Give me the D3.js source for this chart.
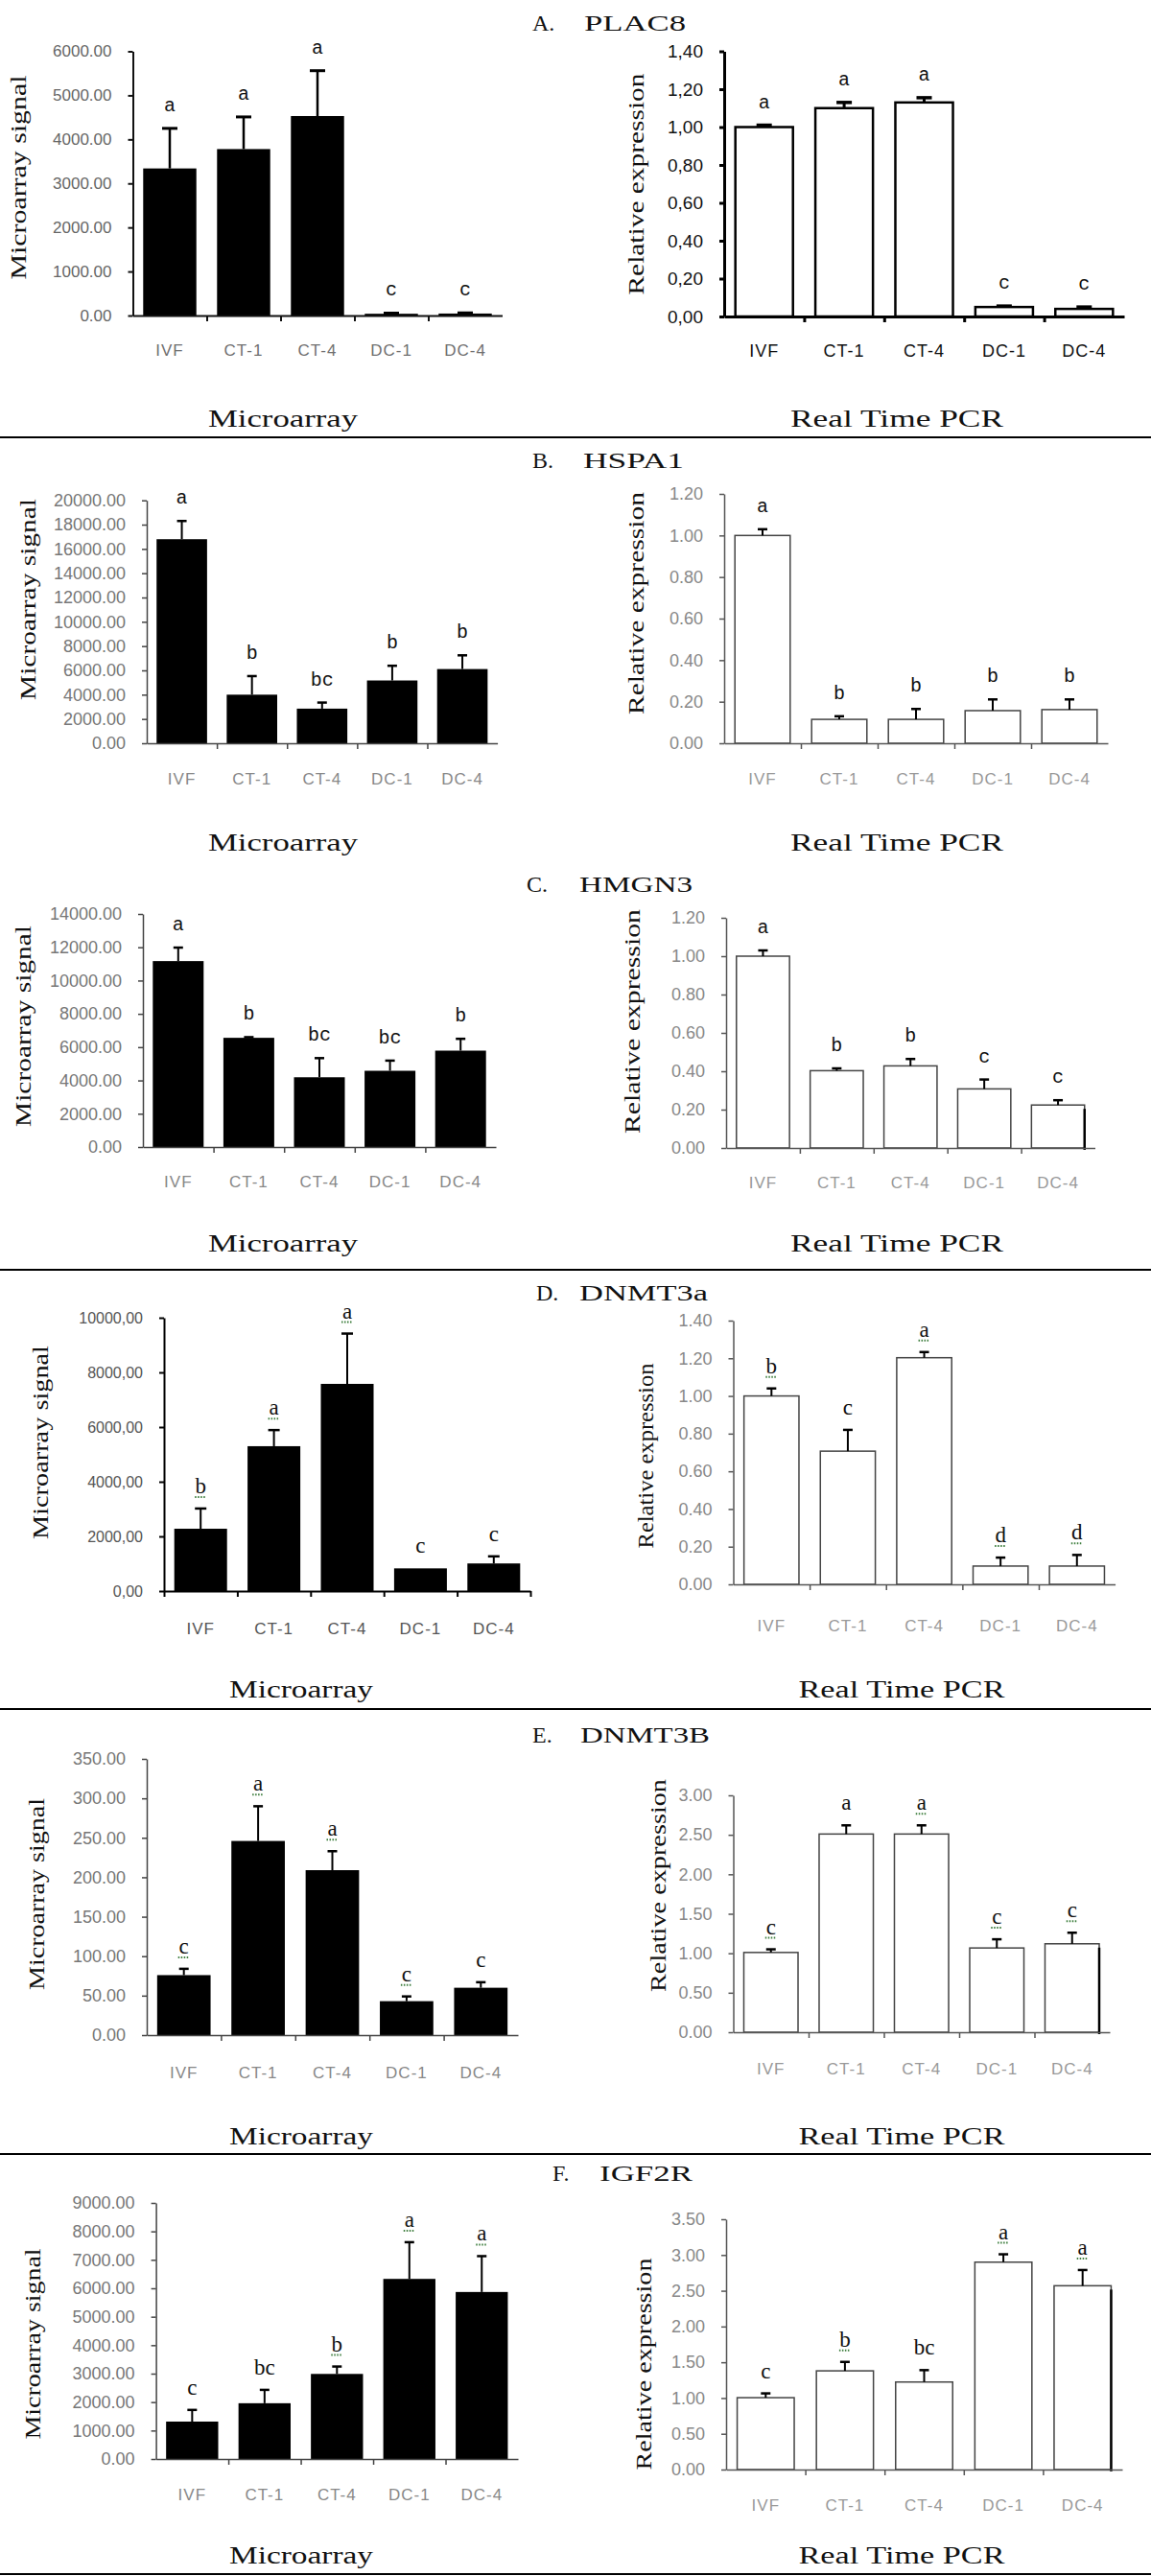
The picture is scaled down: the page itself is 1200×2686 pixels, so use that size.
<!DOCTYPE html>
<html>
<head>
<meta charset="utf-8">
<script src="https://cdn.jsdelivr.net/npm/d3@7"></script>
<style>
  body { margin: 0; background: #fff; }
  svg { display: block; }
</style>
</head>
<body>
<svg id="figure"></svg>
<script>
// Data
const groups = ["IVF", "CT-1", "CT-4", "DC-1", "DC-4"];
const panelLetters = ["A.", "B.", "C.", "D.", "E.", "F."];
const geneNames = ["PLAC8", "HSPA1", "HMGN3", "DNMT3a", "DNMT3B", "IGF2R"];

const plac8Micro = [3340, 3780, 4530, 40, 45];
const plac8MicroErr = [910, 730, 1030, 15, 15];
const plac8MicroSig = ["a", "a", "a", "c", "c"];
const plac8MicroTicks = [0, 1000, 2000, 3000, 4000, 5000, 6000];
const plac8Pcr = [1.0, 1.1, 1.13, 0.05, 0.04];
const plac8PcrErr = [0.01, 0.03, 0.025, 0.005, 0.01];
const plac8PcrSig = ["a", "a", "a", "c", "c"];
const plac8PcrTicks = [0, 0.2, 0.4, 0.6, 0.8, 1.0, 1.2, 1.4];

const hspa1Micro = [16800, 4000, 2850, 5170, 6110];
const hspa1MicroErr = [1500, 1530, 500, 1210, 1130];
const hspa1MicroSig = ["a", "b", "bc", "b", "b"];
const hspa1MicroTicks = [0, 2000, 4000, 6000, 8000, 10000, 12000, 14000, 16000, 18000, 20000];
const hspa1Pcr = [1.0, 0.115, 0.115, 0.157, 0.162];
const hspa1PcrErr = [0.03, 0.015, 0.05, 0.054, 0.049];
const hspa1PcrSig = ["a", "b", "b", "b", "b"];
const hspa1PcrTicks = [0, 0.2, 0.4, 0.6, 0.8, 1.0, 1.2];

const hmgn3Micro = [11170, 6560, 4190, 4580, 5790];
const hmgn3MicroErr = [810, 40, 1150, 610, 710];
const hmgn3MicroSig = ["a", "b", "bc", "bc", "b"];
const hmgn3MicroTicks = [0, 2000, 4000, 6000, 8000, 10000, 12000, 14000];
const hmgn3Pcr = [1.0, 0.403, 0.428, 0.308, 0.224];
const hmgn3PcrErr = [0.03, 0.012, 0.036, 0.049, 0.025];
const hmgn3PcrSig = ["a", "b", "b", "c", "c"];
const hmgn3PcrTicks = [0, 0.2, 0.4, 0.6, 0.8, 1.0, 1.2];

const dnmt3aMicro = [2280, 5300, 7580, 830, 1010];
const dnmt3aMicroErr = [740, 590, 1840, 0, 260];
const dnmt3aMicroSig = ["b", "a", "a", "c", "c"];
const dnmt3aMicroTicks = [0, 2000, 4000, 6000, 8000, 10000];
const dnmt3aPcr = [1.0, 0.707, 1.203, 0.097, 0.097];
const dnmt3aPcrErr = [0.04, 0.113, 0.03, 0.045, 0.059];
const dnmt3aPcrSig = ["b", "c", "a", "d", "d"];
const dnmt3aPcrTicks = [0, 0.2, 0.4, 0.6, 0.8, 1.0, 1.2, 1.4];

const dnmt3bMicro = [76, 246, 209, 43, 60];
const dnmt3bMicroErr = [8, 44, 24, 6, 7];
const dnmt3bMicroSig = ["c", "a", "a", "c", "c"];
const dnmt3bMicroTicks = [0, 50, 100, 150, 200, 250, 300, 350];
const dnmt3bPcr = [1.01, 2.51, 2.51, 1.067, 1.12];
const dnmt3bPcrErr = [0.04, 0.11, 0.11, 0.11, 0.14];
const dnmt3bPcrSig = ["c", "a", "a", "c", "c"];
const dnmt3bPcrTicks = [0, 0.5, 1.0, 1.5, 2.0, 2.5, 3.0];

const igf2rMicro = [1315, 1960, 2990, 6330, 5870];
const igf2rMicroErr = [410, 470, 260, 1290, 1260];
const igf2rMicroSig = ["c", "bc", "b", "a", "a"];
const igf2rMicroTicks = [0, 1000, 2000, 3000, 4000, 5000, 6000, 7000, 8000, 9000];
const igf2rPcr = [1.005, 1.38, 1.224, 2.9, 2.57];
const igf2rPcrErr = [0.06, 0.125, 0.166, 0.11, 0.22];
const igf2rPcrSig = ["c", "b", "bc", "a", "a"];
const igf2rPcrTicks = [0, 0.5, 1.0, 1.5, 2.0, 2.5, 3.0, 3.5];

// letters that carry the dotted spell-check underline in the source figure
const dnmt3aMicroDots = [1, 1, 1, 0, 0];
const dnmt3aPcrDots = [1, 0, 1, 1, 1];
const dnmt3bMicroDots = [1, 1, 1, 1, 0];
const dnmt3bPcrDots = [1, 0, 1, 1, 1];
const igf2rMicroDots = [0, 0, 1, 1, 1];
const igf2rPcrDots = [0, 1, 0, 1, 1];
const noDots = [0, 0, 0, 0, 0];

// Fonts and formats
const serif = "'Liberation Serif', 'DejaVu Serif', serif";
const sans = "'Liberation Sans', Arial, sans-serif";
const mono = "'Liberation Mono', 'DejaVu Sans Mono', monospace";
const fmtDot = d3.format(".2f");
const fmtComma = (d) => d3.format(".2f")(d).replace(".", ",");

// Look of each chart type
const looks = {
  microA: { fill: "#000", stroke: "none", sw: 0, axis: "#111", aw: 2, tick: "#666", cat: "#707070", tfs: 17, cfs: 17, cap: 16, ew: 2.5, edges: [1, 2, 3, 4] },
  pcrA: { fill: "#fff", stroke: "#000", sw: 2.5, axis: "#000", aw: 3, tick: "#111", cat: "#111", tfs: 19, cfs: 18, cap: 16, ew: 3, edges: [1, 2, 3, 4] },
  micro: { fill: "#000", stroke: "none", sw: 0, axis: "#444", aw: 1.5, tick: "#777", cat: "#888", tfs: 18, cfs: 17, cap: 10, ew: 2, edges: [1, 2, 3, 4] },
  microD: { fill: "#000", stroke: "none", sw: 0, axis: "#000", aw: 2, tick: "#555", cat: "#555", tfs: 16, cfs: 17, cap: 12, ew: 2, edges: [0, 1, 2, 3, 4, 5] },
  pcr: { fill: "#fff", stroke: "#444", sw: 1.5, axis: "#555", aw: 1.5, tick: "#888", cat: "#999", tfs: 18, cfs: 17, cap: 10, ew: 2, edges: [1, 2, 3, 4] },
};

// Chart placement: box = [x0, x1, y of top tick, y of zero], gap = zero line to label centre
const charts = [
  { v: plac8Micro, e: plac8MicroErr, s: plac8MicroSig, d: noDots, t: plac8MicroTicks, f: fmtDot, look: "microA", box: [138.5, 523.5, 53.5, 329], gap: 36 },
  { v: plac8Pcr, e: plac8PcrErr, s: plac8PcrSig, d: noDots, t: plac8PcrTicks, f: fmtComma, look: "pcrA", box: [755, 1172, 53.5, 330], gap: 36 },
  { v: hspa1Micro, e: hspa1MicroErr, s: hspa1MicroSig, d: noDots, t: hspa1MicroTicks, f: fmtDot, look: "micro", box: [153, 518.6, 521.7, 775], gap: 37 },
  { v: hspa1Pcr, e: hspa1PcrErr, s: hspa1PcrSig, d: noDots, t: hspa1PcrTicks, f: fmtDot, look: "pcr", box: [755, 1155, 515, 775], gap: 37 },
  { v: hmgn3Micro, e: hmgn3MicroErr, s: hmgn3MicroSig, d: noDots, t: hmgn3MicroTicks, f: fmtDot, look: "micro", box: [149, 517, 953, 1196], gap: 36 },
  { v: hmgn3Pcr, e: hmgn3PcrErr, s: hmgn3PcrSig, d: noDots, t: hmgn3PcrTicks, f: fmtDot, look: "pcr", box: [757, 1141.5, 957, 1197], gap: 36, edge: true },
  { v: dnmt3aMicro, e: dnmt3aMicroErr, s: dnmt3aMicroSig, d: dnmt3aMicroDots, t: dnmt3aMicroTicks, f: fmtComma, look: "microD", box: [171, 553, 1374, 1659], gap: 39 },
  { v: dnmt3aPcr, e: dnmt3aPcrErr, s: dnmt3aPcrSig, d: dnmt3aPcrDots, t: dnmt3aPcrTicks, f: fmtDot, look: "pcr", box: [764.5, 1162.6, 1377, 1652], gap: 43 },
  { v: dnmt3bMicro, e: dnmt3bMicroErr, s: dnmt3bMicroSig, d: dnmt3bMicroDots, t: dnmt3bMicroTicks, f: fmtDot, look: "micro", box: [153, 540, 1834, 2122], gap: 39 },
  { v: dnmt3bPcr, e: dnmt3bPcrErr, s: dnmt3bPcrSig, d: dnmt3bPcrDots, t: dnmt3bPcrTicks, f: fmtDot, look: "pcr", box: [764.5, 1157, 1872, 2119], gap: 38, edge: true },
  { v: igf2rMicro, e: igf2rMicroErr, s: igf2rMicroSig, d: igf2rMicroDots, t: igf2rMicroTicks, f: fmtDot, look: "micro", box: [162.6, 540, 2297, 2564], gap: 37 },
  { v: igf2rPcr, e: igf2rPcrErr, s: igf2rPcrSig, d: igf2rPcrDots, t: igf2rPcrTicks, f: fmtDot, look: "pcr", box: [757, 1170, 2314, 2575], gap: 37, edge: true },
];

// Y axis titles: [x, y centre, length]
const yTitlePos = [
  [19, 185, 213], [663, 192, 231],
  [29, 625, 210], [663, 629, 232],
  [24, 1070, 210], [659, 1065, 234],
  [42, 1504, 202], [673, 1518, 193],
  [38, 1975, 200], [686, 1966, 222],
  [34, 2444, 199], [671, 2465, 221],
];

// Panel headers: letter x, baseline, gene x, gene length
const headerPos = [
  [555, 32, 609, 106], [555, 488, 608, 105], [549, 930, 604, 118],
  [559, 1356, 604, 134], [555, 1817, 605, 135], [576, 2274, 625, 97],
];
const methodRowY = [438, 880, 1298, 1763, 2229, 2666];
const separatorY = [456, 1324, 1782, 2246, 2684];

const svg = d3.select("#figure").attr("width", 1200).attr("height", 2686);
svg.append("rect").attr("width", 1200).attr("height", 2686).attr("fill", "#fff");

function drawChart(c, idx) {
  const L = looks[c.look];
  const [x0, x1, yTop, yBot] = c.box;
  const x = d3.scaleBand().domain(groups).range([x0, x1]).paddingInner(0.28).paddingOuter(0.14);
  const y = d3.scaleLinear().domain([0, d3.max(c.t)]).range([yBot, yTop]);
  const g = svg.append("g");
  const cx = (i) => x(groups[i]) + x.bandwidth() / 2;

  // bars
  g.selectAll("rect.bar")
    .data(groups)
    .join("rect")
    .attr("class", "bar")
    .attr("x", (d) => x(d))
    .attr("width", x.bandwidth())
    .attr("y", (d, i) => y(c.v[i]))
    .attr("height", (d, i) => yBot - y(c.v[i]))
    .attr("fill", L.fill)
    .attr("stroke", L.stroke)
    .attr("stroke-width", L.sw);

  // darker right edge on the last bar (scan artefact in the source)
  if (c.edge) {
    const last = groups.length - 1;
    g.append("line")
      .attr("x1", x(groups[last]) + x.bandwidth())
      .attr("x2", x(groups[last]) + x.bandwidth())
      .attr("y1", y(c.v[last]) + 4)
      .attr("y2", yBot + 2)
      .attr("stroke", "#000")
      .attr("stroke-width", 2.5);
  }

  // error bars (upper half only)
  const withErr = groups.map((d, i) => i).filter((i) => c.e[i] > 0);
  g.selectAll("line.err")
    .data(withErr)
    .join("line")
    .attr("x1", cx).attr("x2", cx)
    .attr("y1", (i) => y(c.v[i]))
    .attr("y2", (i) => y(c.v[i] + c.e[i]))
    .attr("stroke", "#000")
    .attr("stroke-width", L.ew);
  g.selectAll("line.cap")
    .data(withErr)
    .join("line")
    .attr("x1", (i) => cx(i) - L.cap / 2)
    .attr("x2", (i) => cx(i) + L.cap / 2)
    .attr("y1", (i) => y(c.v[i] + c.e[i]))
    .attr("y2", (i) => y(c.v[i] + c.e[i]))
    .attr("stroke", "#000")
    .attr("stroke-width", L.ew + 0.5);

  // significance letters
  const serifLetters = idx >= 6;
  const lift = serifLetters ? 16 : 18;
  g.selectAll("text.sig")
    .data(groups)
    .join("text")
    .attr("x", (d, i) => cx(i))
    .attr("y", (d, i) => y(c.v[i] + c.e[i]) - lift)
    .attr("text-anchor", "middle")
    .attr("font-family", serifLetters ? serif : mono)
    .attr("font-size", serifLetters ? 23 : 20)
    .attr("fill", "#111")
    .text((d, i) => c.s[i]);

  // dotted underline under some letters
  const dotted = groups.map((d, i) => i).filter((i) => c.d[i]);
  g.selectAll("line.dots")
    .data(dotted)
    .join("line")
    .attr("x1", (i) => cx(i) - 6)
    .attr("x2", (i) => cx(i) + 6)
    .attr("y1", (i) => y(c.v[i] + c.e[i]) - lift + 4)
    .attr("y2", (i) => y(c.v[i] + c.e[i]) - lift + 4)
    .attr("stroke", "#3f7f3f")
    .attr("stroke-width", 2)
    .attr("stroke-dasharray", "1.5,1.5");

  // y axis
  const yAxis = d3.axisLeft(y).tickValues(c.t).tickFormat(c.f).tickSize(5).tickSizeOuter(0).tickPadding(17);
  const ya = g.append("g").attr("transform", `translate(${x0},0)`).call(yAxis);
  ya.selectAll("path, line").attr("stroke", L.axis).attr("stroke-width", L.aw);
  ya.selectAll("text").attr("fill", L.tick).attr("font-family", sans).attr("font-size", L.tfs);

  // x axis line with ticks between the groups
  const xe = d3.scaleLinear().domain([0, groups.length]).range([x0, x1]);
  const xa = g.append("g")
    .attr("transform", `translate(0,${yBot})`)
    .call(d3.axisBottom(xe).tickValues(L.edges).tickFormat("").tickSize(6).tickSizeOuter(0));
  xa.selectAll("path, line").attr("stroke", L.axis).attr("stroke-width", L.aw);

  // group labels
  const ca = g.append("g")
    .attr("transform", `translate(0,${yBot})`)
    .call(d3.axisBottom(x).tickSize(0).tickPadding(c.gap - 0.35 * L.cfs));
  ca.select(".domain").remove();
  ca.selectAll("text")
    .attr("fill", L.cat)
    .attr("font-family", sans)
    .attr("font-size", L.cfs)
    .attr("letter-spacing", 1);

  // y title
  const [tx, ty, tl] = yTitlePos[idx];
  svg.append("text")
    .attr("transform", `translate(${tx},${ty}) rotate(-90)`)
    .attr("text-anchor", "middle")
    .attr("dominant-baseline", "central")
    .attr("font-family", serif)
    .attr("font-size", 24)
    .attr("fill", "#111")
    .attr("textLength", tl)
    .attr("lengthAdjust", "spacingAndGlyphs")
    .text(idx % 2 === 0 ? "Microarray signal" : "Relative expression");
}

charts.forEach(drawChart);

// panel headers
headerPos.forEach(([lx, by, gx, gl], i) => {
  svg.append("text")
    .attr("x", lx).attr("y", by)
    .attr("font-family", serif).attr("font-size", 24).attr("fill", "#111")
    .text(panelLetters[i]);
  svg.append("text")
    .attr("x", gx).attr("y", by)
    .attr("font-family", serif).attr("font-size", 24).attr("fill", "#111")
    .attr("textLength", gl).attr("lengthAdjust", "spacingAndGlyphs")
    .text(geneNames[i]);
});

// method titles under each pair of charts
methodRowY.forEach((yy, i) => {
  const late = i >= 3;
  svg.append("text")
    .attr("x", late ? 314 : 295).attr("y", yy + 7)
    .attr("text-anchor", "middle")
    .attr("font-family", serif).attr("font-size", 26).attr("fill", "#111")
    .attr("textLength", late ? 150 : 156).attr("lengthAdjust", "spacingAndGlyphs")
    .text("Microarray");
  svg.append("text")
    .attr("x", late ? 940 : 935).attr("y", yy + 7)
    .attr("text-anchor", "middle")
    .attr("font-family", serif).attr("font-size", 26).attr("fill", "#111")
    .attr("textLength", late ? 215 : 222).attr("lengthAdjust", "spacingAndGlyphs")
    .text("Real Time PCR");
});

// separators
svg.selectAll("line.sep")
  .data(separatorY)
  .join("line")
  .attr("x1", 0).attr("x2", 1200)
  .attr("y1", (d) => d).attr("y2", (d) => d)
  .attr("stroke", "#000")
  .attr("stroke-width", 2);
</script>
</body>
</html>
